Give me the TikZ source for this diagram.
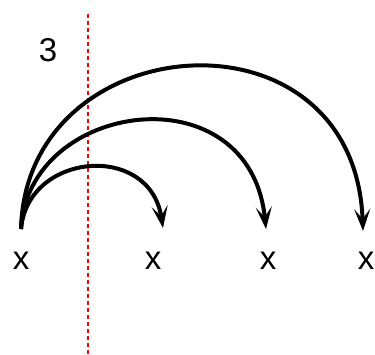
\documentclass[tikz,border=0pt]{standalone}
\usepackage{fontspec}
\setmainfont{Liberation Sans}
\usetikzlibrary{arrows.meta}
\begin{document}
\begin{tikzpicture}[x=1pt,y=-1pt,
  lbl/.style={font=\fontsize{33}{33}\selectfont, inner sep=0pt, anchor=base},
  arc/.style={line width=4pt, -{Stealth[length=22pt,width=16pt,inset=10pt]}},
  cut/.style={red, line width=1.3pt, dash pattern=on 4pt off 3pt}]
\useasboundingbox (0,0) rectangle (375,354);
\node[lbl] (x1) at (21,269) {x};
\node[lbl] (x2) at (153,269) {x};
\node[lbl] (x3) at (268,269) {x};
\node[lbl] (x4) at (366,269) {x};
\node[lbl] (n3) at (48,61) {3};
\coordinate (s) at (21,229);
\coordinate (e1) at (163,228);
\coordinate (e2) at (266,229);
\coordinate (e3) at (363,231);
\coordinate (ct) at (88,14);
\coordinate (cb) at (88,354);
\draw[cut] (ct) -- (cb);
\draw[arc] (s) .. controls (28,152) and (150,142) .. (e1);
\draw[arc] (s) .. controls (28,100) and (250,70) .. (e2);
\draw[arc] (s) .. controls (26,25) and (355,0) .. (e3);
\end{tikzpicture}
\end{document}
